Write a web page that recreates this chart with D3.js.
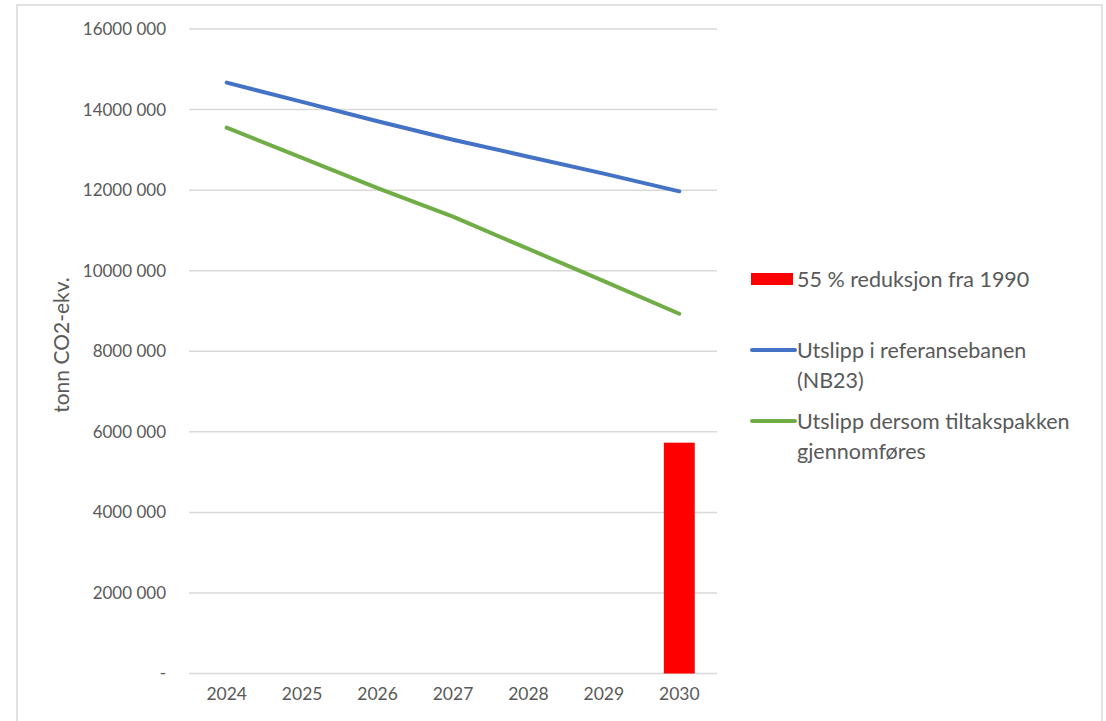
<!DOCTYPE html>
<html>
<head>
<meta charset="utf-8">
<script src="https://cdn.jsdelivr.net/npm/d3@7"></script>
<style>
  body { margin: 0; background: #fff; }
  svg, svg text { font-family: Lato, 'Open Sans', sans-serif; }
  .tick text { fill: #595959; }
</style>
</head>
<body>
<div id="chart"></div>
<script>
const years = ['2024', '2025', '2026', '2027', '2028', '2029', '2030']
const referanse = [14670000, 14190000, 13710000, 13250000, 12830000, 12410000, 11970000]
const tiltak = [13550000, 12800000, 12050000, 11340000, 10540000, 9740000, 8930000]
const maal = [null, null, null, null, null, null, 5730000]
const yTicks = [0, 2000000, 4000000, 6000000, 8000000, 10000000, 12000000, 14000000, 16000000]
const legendLabels = [
  ['55 % reduksjon fra 1990'],
  ['Utslipp i referansebanen', '(NB23)'],
  ['Utslipp dersom tiltakspakken', 'gjennomføres'],
]
const colors = {bar: '#ff0000', ref: '#4472c4', tiltak: '#70ad47'}

const width = 1106, height = 721
const margin = {top: 29, right: 389, bottom: 47.5, left: 189}
const plotW = width - margin.left - margin.right
const plotH = height - margin.top - margin.bottom

const svg = d3.select('#chart').append('svg')
  .attr('width', width)
  .attr('height', height)

// outer frame
svg.append('rect')
  .attr('x', 17).attr('y', 5)
  .attr('width', 1085).attr('height', 730)
  .attr('fill', 'none')
  .attr('stroke', '#d9d9d9')
  .attr('stroke-width', 1.5)

const g = svg.append('g')
  .attr('transform', 'translate(' + margin.left + ',' + margin.top + ')')

const x = d3.scaleBand().domain(years).range([0, plotW])
const y = d3.scaleLinear().domain([0, 16000000]).range([plotH, 0])

function fmt(v) {
  if (v === 0) return '-'
  return Math.floor(v / 1000) + ' ' + '000'
}

// gridlines
g.append('g')
  .selectAll('line')
  .data(yTicks)
  .join('line')
  .attr('x1', 0).attr('x2', plotW)
  .attr('y1', (d) => y(d)).attr('y2', (d) => y(d))
  .attr('stroke', '#d9d9d9')
  .attr('stroke-width', 1.5)

// y axis labels
const yAxis = g.append('g')
  .call(d3.axisLeft(y).tickValues(yTicks).tickFormat(fmt).tickSize(0).tickPadding(23))
  .attr('font-family', null)
yAxis.select('.domain').remove()
yAxis.selectAll('text').attr('font-size', 17)

// x axis labels
const xAxis = g.append('g')
  .attr('transform', 'translate(0,' + plotH + ')')
  .call(d3.axisBottom(x).tickSize(0).tickPadding(14))
  .attr('font-family', null)
xAxis.select('.domain').remove()
xAxis.selectAll('text').attr('font-size', 17.5)

// y title
svg.append('text')
  .attr('transform', 'translate(62,345) rotate(-90)')
  .attr('text-anchor', 'middle')
  .attr('dy', '0.35em')
  .attr('fill', '#595959')
  .attr('font-size', 21)
  .text('tonn CO2-ekv.')

// bar
const barW = x.bandwidth() * 0.41
g.selectAll('.bar')
  .data(years.map((yr, i) => ({yr, v: maal[i]})).filter((d) => d.v !== null))
  .join('rect')
  .attr('class', 'bar')
  .attr('x', (d) => x(d.yr) + (x.bandwidth() - barW) / 2)
  .attr('y', (d) => y(d.v))
  .attr('width', barW)
  .attr('height', (d) => plotH - y(d.v))
  .attr('fill', colors.bar)

// lines
const line = d3.line()
  .x((d) => x(d.yr) + x.bandwidth() / 2)
  .y((d) => y(d.v))

;[[referanse, colors.ref], [tiltak, colors.tiltak]].forEach(([vals, c]) => {
  g.append('path')
    .datum(years.map((yr, i) => ({yr, v: vals[i]})))
    .attr('fill', 'none')
    .attr('stroke', c)
    .attr('stroke-width', 4)
    .attr('stroke-linecap', 'round')
    .attr('stroke-linejoin', 'round')
    .attr('d', line)
})

// legend
const legend = svg.append('g').attr('transform', 'translate(751,0)')
const legendY = [279, 350, 421]

legend.append('rect')
  .attr('x', 0).attr('y', legendY[0] - 6)
  .attr('width', 42).attr('height', 12)
  .attr('fill', colors.bar)

;[colors.ref, colors.tiltak].forEach((c, i) => {
  legend.append('line')
    .attr('x1', 1).attr('x2', 44)
    .attr('y1', legendY[i + 1]).attr('y2', legendY[i + 1])
    .attr('stroke', c)
    .attr('stroke-width', 4)
    .attr('stroke-linecap', 'round')
})

legendLabels.forEach((lines, i) => {
  const t = legend.append('text')
    .attr('x', 46)
    .attr('y', legendY[i])
    .attr('fill', '#595959')
    .attr('font-size', 21.5)
  lines.forEach((s, j) => {
    t.append('tspan')
      .attr('x', 46)
      .attr('dy', j === 0 ? '0.35em' : 30)
      .text(s)
  })
})
</script>
</body>
</html>
